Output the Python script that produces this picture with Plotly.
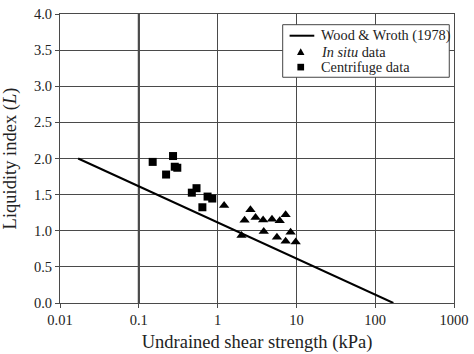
import plotly.graph_objects as go

# Wood & Wroth (1978) line endpoints: su = 170*exp(-4.6*LI)
ww_su = [0.017, 170]
ww_li = [2.0, 0.0]

# In situ data (triangles)
insitu_su = [1.21, 2.01, 2.20, 2.61, 3.03, 3.78, 3.85, 4.90, 5.66, 6.14, 7.30, 7.30, 8.44, 9.80]
insitu_li = [1.35, 0.935, 1.145, 1.29, 1.185, 1.148, 0.99, 1.158, 0.91, 1.138, 1.22, 0.855, 0.98, 0.845]

# Centrifuge data (squares)
cent_su = [0.150, 0.272, 0.222, 0.286, 0.308, 0.471, 0.540, 0.641, 0.746, 0.855]
cent_li = [1.953, 2.034, 1.778, 1.886, 1.872, 1.527, 1.589, 1.325, 1.473, 1.446]

x_ticks = [0.01, 0.1, 1, 10, 100, 1000]
x_ticklabels = ["0.01", "0.1", "1", "10", "100", "1000"]
y_ticks = [0.0, 0.5, 1.0, 1.5, 2.0, 2.5, 3.0, 3.5, 4.0]
y_ticklabels = ["0.0", "0.5", "1.0", "1.5", "2.0", "2.5", "3.0", "3.5", "4.0"]
ref_x = 0.1

legend_labels = ["Wood & Wroth (1978)", "<i>In situ</i> data", "Centrifuge data"]

FONT = "Times New Roman, Liberation Serif, serif"
GRID = "#4a4a4a"
TXT = "#222222"

fig = go.Figure()
fig.add_trace(go.Scatter(x=ww_su, y=ww_li, mode="lines", name=legend_labels[0],
                         line=dict(color="black", width=2)))
fig.add_trace(go.Scatter(x=insitu_su, y=insitu_li, mode="markers", name=legend_labels[1],
                         marker=dict(symbol="triangle-up", size=9, color="black")))
fig.add_trace(go.Scatter(x=cent_su, y=cent_li, mode="markers", name=legend_labels[2],
                         marker=dict(symbol="square", size=8, color="black")))

fig.add_shape(type="line", xref="x", yref="paper", x0=ref_x, x1=ref_x, y0=0, y1=1,
              line=dict(color="#222222", width=2), layer="below")

# ---- custom legend box (paper coordinates of the plot area) ----
LX0, LX1, LY0, LY1 = 0.5652, 0.988, 0.7811, 0.963
row_y = [0.9249, 0.870, 0.8162]
sym_x = 0.611
text_x = 0.6571
fig.add_shape(type="rect", xref="paper", yref="paper", x0=LX0, x1=LX1, y0=LY0, y1=LY1,
              fillcolor="white", line=dict(color="#444444", width=1), layer="above")
fig.add_shape(type="line", xref="paper", yref="paper", x0=0.5827, x1=0.6454,
              y0=row_y[0], y1=row_y[0], line=dict(color="black", width=2), layer="above")
tw, th = 0.0095, 0.0118
fig.add_shape(type="path", xref="paper", yref="paper",
              path=f"M {sym_x-tw},{row_y[1]-th} L {sym_x+tw},{row_y[1]-th} L {sym_x},{row_y[1]+th} Z",
              fillcolor="black", line=dict(color="black", width=0), layer="above")
sw, sh = 0.0085, 0.0115
fig.add_shape(type="rect", xref="paper", yref="paper",
              x0=sym_x-sw, x1=sym_x+sw, y0=row_y[2]-sh, y1=row_y[2]+sh,
              fillcolor="black", line=dict(color="black", width=0), layer="above")
for lab, yy in zip(legend_labels, row_y):
    fig.add_annotation(x=text_x, y=yy, xref="paper", yref="paper", text=lab,
                       showarrow=False, xanchor="left", yanchor="middle",
                       font=dict(family=FONT, size=14.3, color=TXT))

axis_common = dict(
    showgrid=True, gridcolor=GRID, gridwidth=1,
    showline=True, linecolor=GRID, linewidth=1, mirror=True,
    ticks="outside", ticklen=4, tickcolor=GRID,
    tickfont=dict(family=FONT, size=14.5, color=TXT),
    ticklabeloverflow="allow",
    zeroline=False,
)

fig.update_layout(
    width=474, height=354,
    margin=dict(l=59.5, r=15.5, t=5.7, b=51.3),
    paper_bgcolor="white", plot_bgcolor="white",
    font=dict(family=FONT, color=TXT, size=14),
    showlegend=False,
    xaxis=dict(type="log", range=[-2, 3], tickvals=x_ticks, ticktext=x_ticklabels,
               title=dict(text="Undrained shear strength (kPa)", standoff=7,
                          font=dict(family=FONT, size=18.5, color=TXT)),
               **axis_common),
    yaxis=dict(range=[0, 4], tickvals=y_ticks, ticktext=y_ticklabels,
               title=dict(text="Liquidity index (<i>L</i>)", standoff=15,
                          font=dict(family=FONT, size=18.5, color=TXT)),
               **axis_common),
)

fig.write_html("out.html")
